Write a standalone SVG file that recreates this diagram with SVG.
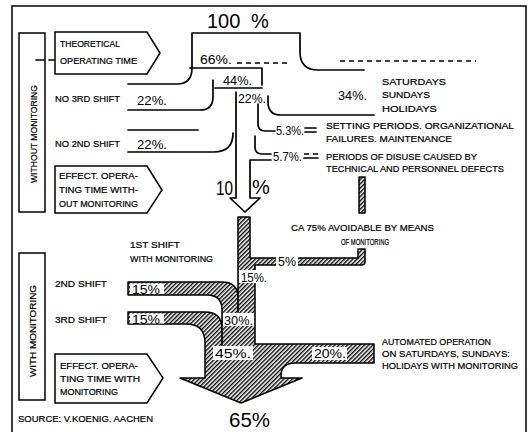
<svg xmlns="http://www.w3.org/2000/svg" width="529" height="432" viewBox="0 0 529 432">
<defs>
<pattern id="hatch" patternUnits="userSpaceOnUse" width="3" height="3" patternTransform="rotate(45)">
<rect width="3" height="3" fill="#fff"/>
<line x1="0.7" y1="0" x2="0.7" y2="3" stroke="#000" stroke-width="1.4"/>
</pattern>
</defs>
<style>
.ln{fill:none;stroke:#000;stroke-width:1.7;stroke-linecap:round;stroke-linejoin:round}
.dl{fill:none;stroke:#000;stroke-width:1.3;stroke-dasharray:5 4}
.bx{fill:#fff;stroke:#000;stroke-width:1.5}
.t{font-family:"Liberation Sans",Arial,sans-serif;font-size:9px;fill:#000;stroke:#000;stroke-width:0.2}
.n{font-family:"Liberation Sans",Arial,sans-serif;font-size:13px;fill:#000}
.b{font-family:"Liberation Sans",Arial,sans-serif;font-size:20px;fill:#000}
.h{fill:url(#hatch);stroke:#000;stroke-width:1.5;stroke-linejoin:round}
.lb{fill:#fff}
</style>
<rect width="529" height="432" fill="#fff"/>
<rect x="12" y="6" width="514" height="440" fill="none" stroke="#000" stroke-width="1.5"/>

<g id="box-without">
<rect class="bx" x="19" y="33" width="26" height="179"/>
<text class="t" font-size="10" transform="translate(37,183) rotate(-90)" textLength="98" lengthAdjust="spacingAndGlyphs">WITHOUT MONITORING</text>
</g>
<g id="box-with">
<rect class="bx" x="19" y="253" width="26" height="147"/>
<text class="t" font-size="10" transform="translate(36,377) rotate(-90)" textLength="92" lengthAdjust="spacingAndGlyphs">WITH MONITORING</text>
</g>

<g id="node-theoretical">
<path class="bx" d="M55,32 H147 L160,53 L147,74 H55 Z"/>
<text class="t" x="60" y="47" textLength="60" lengthAdjust="spacingAndGlyphs">THEORETICAL</text>
<text class="t" x="60" y="64" textLength="77" lengthAdjust="spacingAndGlyphs">OPERATING TIME</text>
</g>
<g id="node-effect-without">
<path class="bx" d="M55,166 H147 L162,190 L147,213 H55 Z"/>
<text class="t" x="59" y="179" textLength="79" lengthAdjust="spacingAndGlyphs">EFFECT. OPERA-</text>
<text class="t" x="59" y="193" textLength="79" lengthAdjust="spacingAndGlyphs">TING TIME WITH-</text>
<text class="t" x="59" y="207" textLength="79" lengthAdjust="spacingAndGlyphs">OUT MONITORING</text>
</g>
<g id="node-effect-with">
<path class="bx" d="M55,354 H147 L163,378 L147,403 H55 Z"/>
<text class="t" x="60" y="369" textLength="78" lengthAdjust="spacingAndGlyphs">EFFECT. OPERA-</text>
<text class="t" x="60" y="382" textLength="80" lengthAdjust="spacingAndGlyphs">TING TIME WITH</text>
<text class="t" x="60" y="395" textLength="58" lengthAdjust="spacingAndGlyphs">MONITORING</text>
</g>

<g id="connectors">
<path class="ln" d="M36,60 H44 M49,60 H54"/>
<path class="ln" d="M192,68 V33 H300 V52 Q300,70 318,70 H364"/>
<path class="ln" d="M190,68 H262 V85"/>
<path class="dl" d="M237,63 H290"/>
<path class="dl" d="M340,61 H476"/>
<path class="ln" d="M192,68 Q192,84 177,84 H128"/>
<path class="ln" d="M128,110 H200 Q213,110 213,97 V80"/>
<path class="ln" d="M215,88 H262"/>
<path class="ln" d="M128,130 H198"/>
<path class="ln" d="M128,152 H214 Q233,152 233,133"/>
<path class="ln" d="M268,96 V102 Q268,115 281,115 H374"/>
<path class="ln" d="M258,104 V124 Q258,131 265,131 H275"/>
<path class="ln" d="M305,128 H316 M305,132 H316"/>
<path class="ln" d="M255,136 V147 Q255,154 262,154 H271"/>
<path class="ln" d="M304,158 H318"/>
<path class="dl" d="M304,154 H318" stroke-dasharray="3 2"/>
<path class="ln" d="M236,92 V198 H230 L245,212 L260,198 H250 V160 H271"/>
<rect class="h" x="359" y="177" width="6" height="36"/>
<path class="h" d="M238,217 H250 V258 H358 V249 H365 V262 Q365,265 361,265 H255 V344 H374 V363 H295 Q281,363 281,376 V378 H302 L241,403 L180,378 H205 V343 Q205,324 186,324 H128 V312 H205 Q222,312 222,329 V310 Q222,295 207,295 H128 V282 H222 Q238,282 238,298 Z"/>
<path class="ln" d="M238,298 V312 M222,329 V345"/>
</g>

<g id="labels">
<text class="b" x="207" y="28">100</text>
<text class="b" x="251" y="28">%</text>
<text class="n" x="200" y="64" textLength="32" lengthAdjust="spacingAndGlyphs">66%.</text>
<text class="n" x="223" y="85" textLength="29" lengthAdjust="spacingAndGlyphs">44%.</text>
<text class="n" x="238" y="103" textLength="28" lengthAdjust="spacingAndGlyphs">22%.</text>
<text class="t" x="55" y="102" textLength="65" lengthAdjust="spacingAndGlyphs">NO 3RD SHIFT</text>
<text class="n" x="137" y="105" textLength="30" lengthAdjust="spacingAndGlyphs">22%.</text>
<text class="t" x="55" y="147" textLength="65" lengthAdjust="spacingAndGlyphs">NO 2ND SHIFT</text>
<text class="n" x="137" y="149" textLength="30" lengthAdjust="spacingAndGlyphs">22%.</text>
<text class="n" x="338" y="100" textLength="29" lengthAdjust="spacingAndGlyphs">34%.</text>
<text class="t" x="382" y="85" textLength="64" lengthAdjust="spacingAndGlyphs">SATURDAYS</text>
<text class="t" x="382" y="98" textLength="48" lengthAdjust="spacingAndGlyphs">SUNDAYS</text>
<text class="t" x="382" y="112" textLength="55" lengthAdjust="spacingAndGlyphs">HOLIDAYS</text>
<text class="n" x="276" y="135" textLength="28" lengthAdjust="spacingAndGlyphs">5.3%.</text>
<text class="t" x="326" y="129" textLength="188" lengthAdjust="spacingAndGlyphs">SETTING PERIODS. ORGANIZATIONAL</text>
<text class="t" x="326" y="142" textLength="126" lengthAdjust="spacingAndGlyphs">FAILURES. MAINTENANCE</text>
<text class="n" x="273" y="161" textLength="29" lengthAdjust="spacingAndGlyphs">5.7%.</text>
<text class="t" x="326" y="160" textLength="151" lengthAdjust="spacingAndGlyphs">PERIODS OF DISUSE CAUSED BY</text>
<text class="t" x="326" y="172" textLength="178" lengthAdjust="spacingAndGlyphs">TECHNICAL AND PERSONNEL DEFECTS</text>
<text class="b" x="216" y="195" textLength="17" lengthAdjust="spacingAndGlyphs">10</text>
<text class="b" x="252" y="194" font-size="17">%</text>
<text class="t" x="291" y="231" textLength="143" lengthAdjust="spacingAndGlyphs">CA 75% AVOIDABLE BY MEANS</text>
<text class="t" x="341" y="245" textLength="48" lengthAdjust="spacingAndGlyphs">OF MONITORING</text>
<text class="t" x="130" y="248" textLength="50" lengthAdjust="spacingAndGlyphs">1ST SHIFT</text>
<text class="t" x="130" y="262" textLength="83" lengthAdjust="spacingAndGlyphs">WITH MONITORING</text>
<text class="t" x="55" y="287" textLength="52" lengthAdjust="spacingAndGlyphs">2ND SHIFT</text>
<text class="t" x="55" y="323" textLength="52" lengthAdjust="spacingAndGlyphs">3RD SHIFT</text>
<rect class="lb" x="276" y="256" width="22" height="11"/>
<text class="n" x="278" y="266" font-size="12" textLength="18" lengthAdjust="spacingAndGlyphs">5%</text>
<rect class="lb" x="130" y="283.5" width="34" height="10.5"/>
<text class="n" x="132" y="294" textLength="28" lengthAdjust="spacingAndGlyphs">15%</text>
<rect class="lb" x="130" y="313.5" width="34" height="10"/>
<text class="n" x="132" y="324" textLength="28" lengthAdjust="spacingAndGlyphs">15%</text>
<rect class="lb" x="239" y="270" width="29" height="13"/>
<text class="n" x="241" y="282" textLength="26" lengthAdjust="spacingAndGlyphs">15%.</text>
<rect class="lb" x="223" y="313" width="31" height="13"/>
<text class="n" x="224" y="325" textLength="29" lengthAdjust="spacingAndGlyphs">30%.</text>
<rect class="lb" x="213" y="346" width="40" height="14"/>
<text class="n" x="215" y="358" textLength="36" lengthAdjust="spacingAndGlyphs">45%.</text>
<rect class="lb" x="312" y="347" width="35" height="13"/>
<text class="n" x="314" y="358" textLength="32" lengthAdjust="spacingAndGlyphs">20%.</text>
<text class="t" x="382" y="345" textLength="109" lengthAdjust="spacingAndGlyphs">AUTOMATED OPERATION</text>
<text class="t" x="382" y="357" textLength="128" lengthAdjust="spacingAndGlyphs">ON SATURDAYS, SUNDAYS:</text>
<text class="t" x="382" y="369" textLength="136" lengthAdjust="spacingAndGlyphs">HOLIDAYS WITH MONITORING</text>
<text class="b" x="229" y="427" textLength="41" lengthAdjust="spacingAndGlyphs">65%</text>
<text class="t" x="18" y="422" textLength="135" lengthAdjust="spacingAndGlyphs">SOURCE: V.KOENIG. AACHEN</text>
</g>
</svg>
